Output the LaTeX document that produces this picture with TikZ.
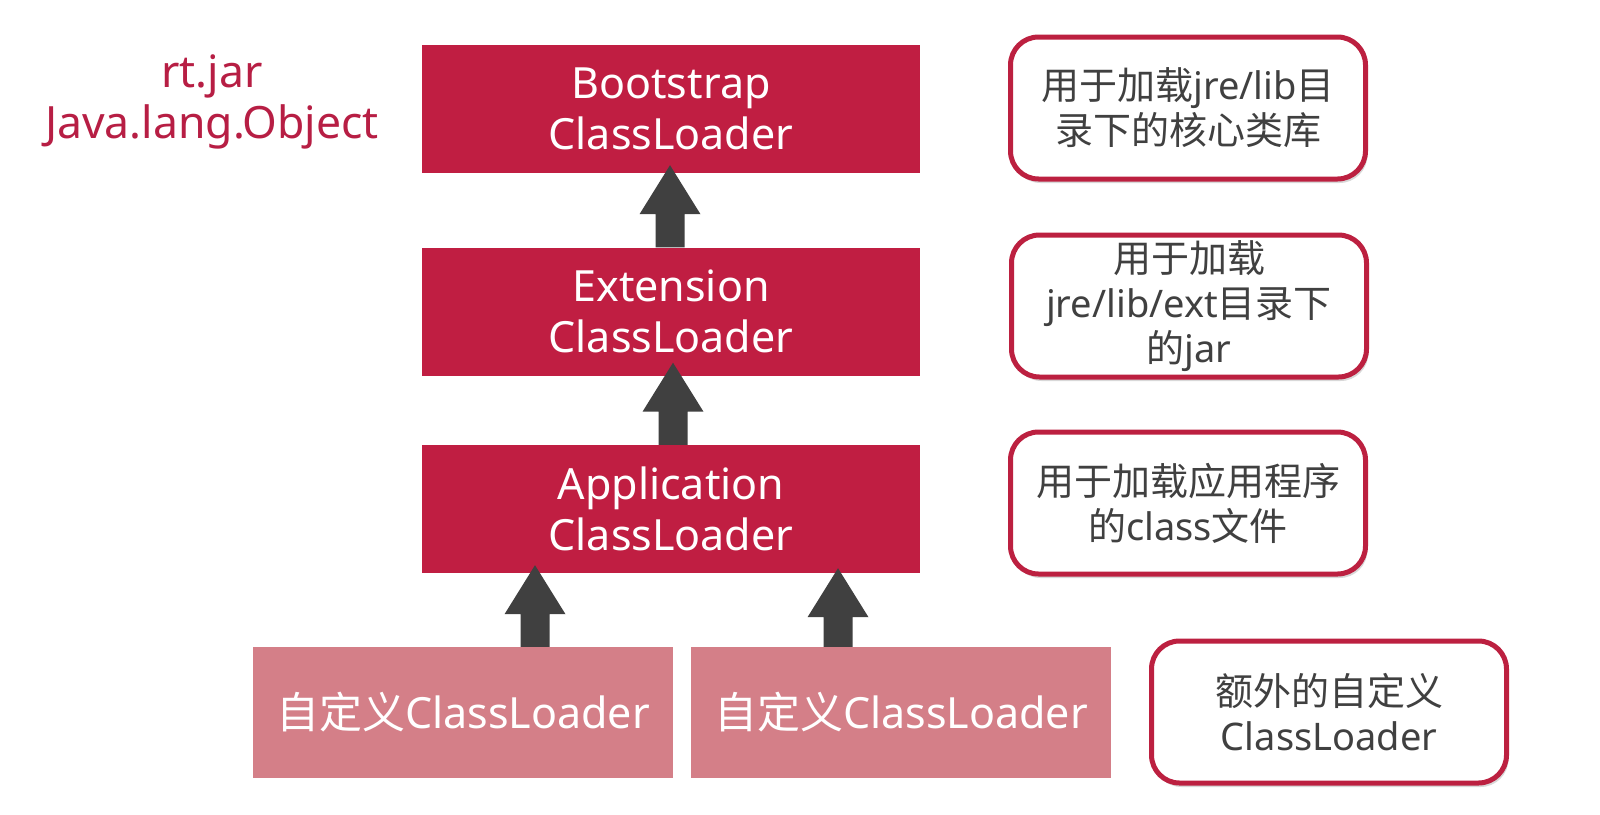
\documentclass[tikz,border=0pt]{standalone}
\usepackage{fontspec}
\setmainfont{Noto Sans}
\newfontfamily\cjk{Noto Sans CJK SC}
\usetikzlibrary{shadows,calc}
\definecolor{mainred}{RGB}{192,30,66}
\definecolor{pinkc}{RGB}{212,127,136}
\definecolor{darkc}{RGB}{64,64,64}
\definecolor{borderc}{RGB}{188,32,64}
\definecolor{lefttext}{RGB}{183,30,68}
\newcommand\fatarrow[4]{%
  \fill[arrowc] let \p1=(#1,0 |- #2.north), \p2=(#1,0 |- #3.south) in
    (\x1-14.5pt,\y1) -- (\x1-14.5pt,\y2+#4pt-49pt) -- (\x1-30.5pt,\y2+#4pt-49pt)
    -- (\x1,\y2+#4pt) -- (\x1+30.5pt,\y2+#4pt-49pt) -- (\x1+14.5pt,\y2+#4pt-49pt)
    -- (\x1+14.5pt,\y1) -- cycle;}
\begin{document}
\begin{tikzpicture}[x=1pt,y=-1pt,
  mainbox/.style={fill=mainred, text=white, minimum width=498pt, minimum height=128pt,
    inner sep=0pt, align=center, font=\fontsize{43}{51}\selectfont},
  custbox/.style={fill=pinkc, text=white, minimum width=420pt, minimum height=131pt,
    inner sep=0pt, align=center, font=\fontsize{43}{51}\selectfont},
  notebox/.style={draw=borderc, line width=5pt, fill=white, rounded corners=28pt,
    minimum width=355pt, minimum height=142pt, inner sep=0pt, align=center, text=darkc,
    font=\fontsize{38}{45}\selectfont,
    drop shadow={opacity=0.3, shadow xshift=2pt, shadow yshift=-4pt}},
  arrowc/.style={fill=darkc}]
\fill[white] (0,0) rectangle (1600,814);
\useasboundingbox (0,0) rectangle (1600,814);

\node[mainbox] (boot) at (671,109) {Bootstrap\\ClassLoader};
\node[mainbox] (ext) at (671,311.5) {Extension\\ClassLoader};
\node[mainbox] (app) at (671,509) {Application\\ClassLoader};
\node[custbox] (c1) at (463,712.5) {{\cjk 自定义}ClassLoader};
\node[custbox] (c2) at (901,712.5) {{\cjk 自定义}ClassLoader};

\node[notebox] (n1) at (1188,108) {{\cjk 用于加载}jre/lib{\cjk 目}\\{\cjk 录下的核心类库}};
\node[notebox] (n2) at (1189,306) {{\cjk 用于加载}\\jre/lib/ext{\cjk 目录下}\\{\cjk 的}jar};
\node[notebox] (n3) at (1188,503) {{\cjk 用于加载应用程序}\\{\cjk 的}class{\cjk 文件}};
\node[notebox] (n4) at (1329,712) {{\cjk 额外的自定义}\\ClassLoader};

\node[text=lefttext, align=center, font=\fontsize{44.5}{51}\selectfont] (lt) at (212,102)
  {rt.jar\\Java.lang.Object};

\fatarrow{670}{ext}{boot}{8}
\fatarrow{673}{app}{ext}{13}
\fatarrow{535}{c1}{app}{8}
\fatarrow{838}{c2}{app}{5}
\end{tikzpicture}
\end{document}
